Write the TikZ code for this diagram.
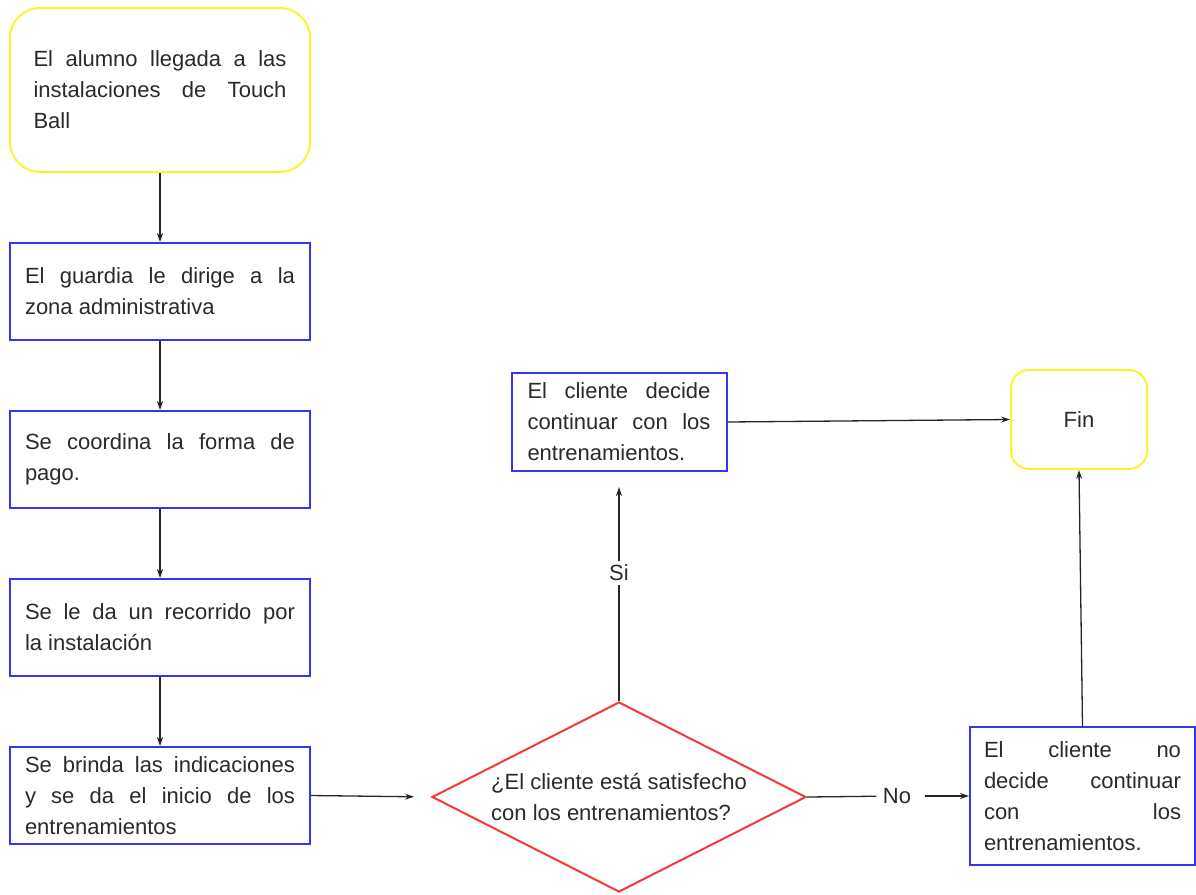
\documentclass[tikz,border=0pt]{standalone}
\usepackage{fontspec}
\setmainfont{Liberation Sans}
\usetikzlibrary{arrows.meta,positioning,shapes.geometric}
\definecolor{BoxBlue}{HTML}{3535F5}
\definecolor{BoxYellow}{HTML}{F8F530}
\definecolor{BoxRed}{HTML}{F53838}
\definecolor{TxtGray}{HTML}{2A2A2A}

\begin{document}
\begin{tikzpicture}[x=1pt,y=-1pt,node distance=69pt,>={Stealth[length=9pt,width=6pt]},
  every node/.style={font=\fontsize{22}{31}\selectfont,text=TxtGray},
  startstop/.style={draw=BoxYellow,line width=2pt,rounded corners=30pt,align=justify},
  procbox/.style={draw=BoxBlue,line width=2pt,align=justify,minimum height=97pt,inner xsep=15pt,text width=270pt},
  decbox/.style={draw=BoxRed,line width=2pt,diamond,aspect=1.97,inner sep=0pt,minimum width=374pt,minimum height=190pt,align=left},
  flow/.style={->,line width=1.3pt,black!85}]
\useasboundingbox (0,0) rectangle (1196,894);
% columna principal
\node[startstop,minimum width=300pt,minimum height=164pt,text width=253pt] (llegada) at (160,90)
  {El alumno llegada a las\linebreak instalaciones de Touch\linebreak Ball};
\node[procbox,below=of llegada] (guardia) {El guardia le dirige a la\linebreak zona administrativa};
\node[procbox,below=of guardia] (pago) {Se coordina la forma de\linebreak pago.};
\node[procbox,below=of pago] (recorrido) {Se le da un recorrido por\linebreak la instalación};
\node[procbox,below=of recorrido] (inicio) {Se brinda las indicaciones\linebreak y se da el inicio de los\linebreak entrenamientos};
% decision y ramas
\node[decbox] (satisf) at (619,797) {¿El cliente está satisfecho\\con los entrenamientos?};
\node[procbox,minimum height=98pt,inner xsep=16pt,text width=183pt] (sigue) at (619,422)
  {El cliente decide\linebreak continuar con los\linebreak entrenamientos.};
\node[startstop,rounded corners=18pt,minimum width=136pt,minimum height=99pt,align=center] (fin) at (1079,419.5) {Fin};
\node[procbox,minimum height=138pt,inner xsep=14pt,text width=197pt] (nosigue) at (1082.5,796)
  {El cliente no\linebreak decide continuar\linebreak con los\linebreak entrenamientos.};
\node (si) at (619,573) {Si};
\node (no) at (897,796) {No};
% conectores
\draw[flow] (llegada)--(guardia);
\draw[flow] (guardia)--(pago);
\draw[flow] (pago)--(recorrido);
\draw[flow] (recorrido)--(inicio);
\draw[flow,shorten >=17pt] (inicio.east)--(satisf.west);
\draw[flow,-] (satisf.north)--(si);
\draw[flow,shorten >=15pt] (si)--(sigue.south);
\draw[flow] (sigue.east)--(fin.west);
\draw[flow,-,shorten >=3pt] (satisf.east)--(no);
\draw[flow,shorten <=10pt] (no)--(nosigue.west);
\draw[flow] (nosigue.north)--(fin.south);
\end{tikzpicture}
\end{document}
